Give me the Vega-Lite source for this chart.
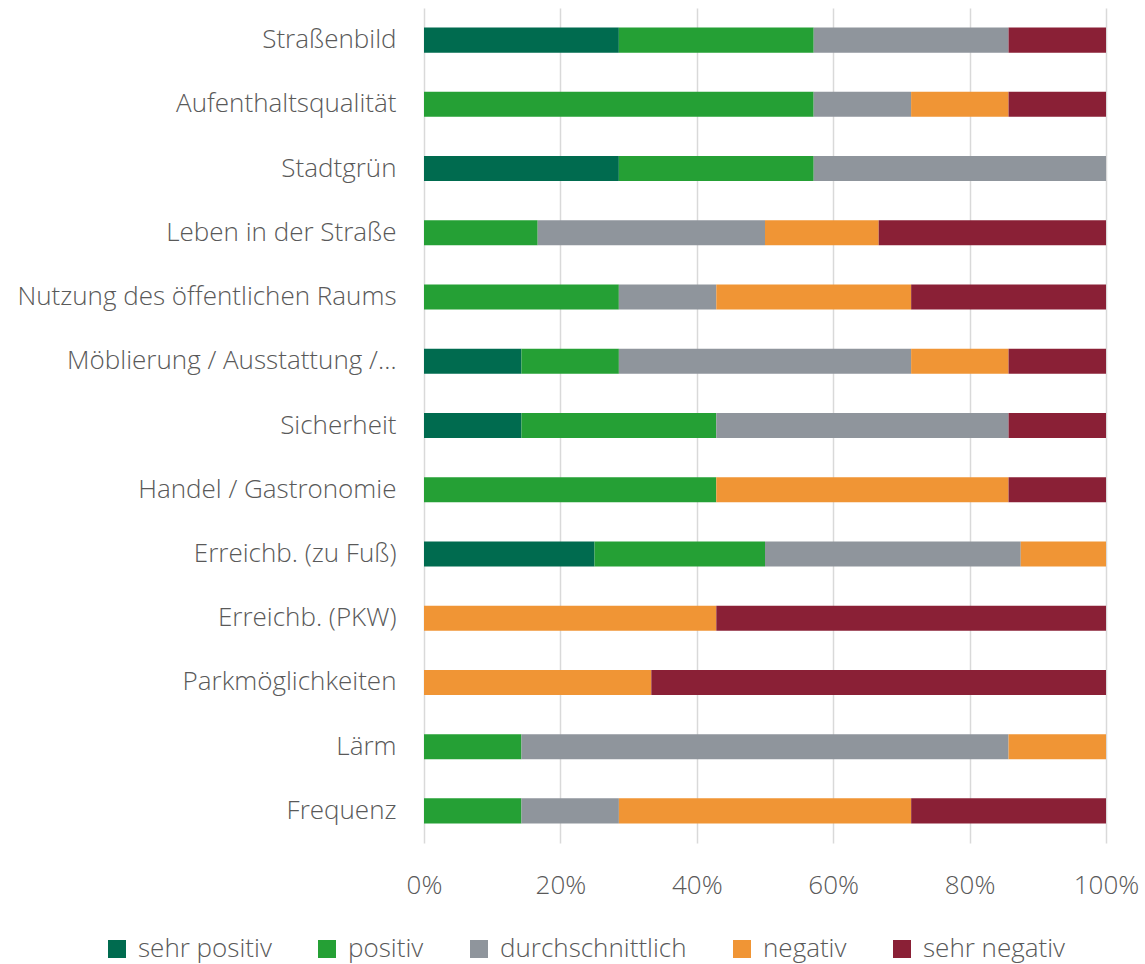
{
  "$schema": "https://vega.github.io/schema/vega-lite/v6.json",
  "width": 682,
  "height": 835,
  "autosize": {"type": "none"},
  "padding": {"left": 424, "top": 8, "right": 39, "bottom": 121},
  "background": "white",
  "config": {
    "font": "Open Sans",
    "view": {"stroke": null}
  },
  "data": {
    "values": [
      {"kat": "Straßenbild", "bew": "sehr positiv", "o": 1, "p": 28.57},
      {"kat": "Straßenbild", "bew": "positiv", "o": 2, "p": 28.57},
      {"kat": "Straßenbild", "bew": "durchschnittlich", "o": 3, "p": 28.57},
      {"kat": "Straßenbild", "bew": "negativ", "o": 4, "p": 0},
      {"kat": "Straßenbild", "bew": "sehr negativ", "o": 5, "p": 14.29},
      {"kat": "Aufenthaltsqualität", "bew": "sehr positiv", "o": 1, "p": 0},
      {"kat": "Aufenthaltsqualität", "bew": "positiv", "o": 2, "p": 57.14},
      {"kat": "Aufenthaltsqualität", "bew": "durchschnittlich", "o": 3, "p": 14.29},
      {"kat": "Aufenthaltsqualität", "bew": "negativ", "o": 4, "p": 14.29},
      {"kat": "Aufenthaltsqualität", "bew": "sehr negativ", "o": 5, "p": 14.29},
      {"kat": "Stadtgrün", "bew": "sehr positiv", "o": 1, "p": 28.57},
      {"kat": "Stadtgrün", "bew": "positiv", "o": 2, "p": 28.57},
      {"kat": "Stadtgrün", "bew": "durchschnittlich", "o": 3, "p": 42.86},
      {"kat": "Stadtgrün", "bew": "negativ", "o": 4, "p": 0},
      {"kat": "Stadtgrün", "bew": "sehr negativ", "o": 5, "p": 0},
      {"kat": "Leben in der Straße", "bew": "sehr positiv", "o": 1, "p": 0},
      {"kat": "Leben in der Straße", "bew": "positiv", "o": 2, "p": 16.67},
      {"kat": "Leben in der Straße", "bew": "durchschnittlich", "o": 3, "p": 33.33},
      {"kat": "Leben in der Straße", "bew": "negativ", "o": 4, "p": 16.67},
      {"kat": "Leben in der Straße", "bew": "sehr negativ", "o": 5, "p": 33.33},
      {"kat": "Nutzung des öffentlichen Raums", "bew": "sehr positiv", "o": 1, "p": 0},
      {"kat": "Nutzung des öffentlichen Raums", "bew": "positiv", "o": 2, "p": 28.57},
      {"kat": "Nutzung des öffentlichen Raums", "bew": "durchschnittlich", "o": 3, "p": 14.29},
      {"kat": "Nutzung des öffentlichen Raums", "bew": "negativ", "o": 4, "p": 28.57},
      {"kat": "Nutzung des öffentlichen Raums", "bew": "sehr negativ", "o": 5, "p": 28.57},
      {"kat": "Möblierung / Ausstattung /…", "bew": "sehr positiv", "o": 1, "p": 14.29},
      {"kat": "Möblierung / Ausstattung /…", "bew": "positiv", "o": 2, "p": 14.29},
      {"kat": "Möblierung / Ausstattung /…", "bew": "durchschnittlich", "o": 3, "p": 42.86},
      {"kat": "Möblierung / Ausstattung /…", "bew": "negativ", "o": 4, "p": 14.29},
      {"kat": "Möblierung / Ausstattung /…", "bew": "sehr negativ", "o": 5, "p": 14.29},
      {"kat": "Sicherheit", "bew": "sehr positiv", "o": 1, "p": 14.29},
      {"kat": "Sicherheit", "bew": "positiv", "o": 2, "p": 28.57},
      {"kat": "Sicherheit", "bew": "durchschnittlich", "o": 3, "p": 42.86},
      {"kat": "Sicherheit", "bew": "negativ", "o": 4, "p": 0},
      {"kat": "Sicherheit", "bew": "sehr negativ", "o": 5, "p": 14.29},
      {"kat": "Handel / Gastronomie", "bew": "sehr positiv", "o": 1, "p": 0},
      {"kat": "Handel / Gastronomie", "bew": "positiv", "o": 2, "p": 42.86},
      {"kat": "Handel / Gastronomie", "bew": "durchschnittlich", "o": 3, "p": 0},
      {"kat": "Handel / Gastronomie", "bew": "negativ", "o": 4, "p": 42.86},
      {"kat": "Handel / Gastronomie", "bew": "sehr negativ", "o": 5, "p": 14.29},
      {"kat": "Erreichb. (zu Fuß)", "bew": "sehr positiv", "o": 1, "p": 25},
      {"kat": "Erreichb. (zu Fuß)", "bew": "positiv", "o": 2, "p": 25},
      {"kat": "Erreichb. (zu Fuß)", "bew": "durchschnittlich", "o": 3, "p": 37.5},
      {"kat": "Erreichb. (zu Fuß)", "bew": "negativ", "o": 4, "p": 12.5},
      {"kat": "Erreichb. (zu Fuß)", "bew": "sehr negativ", "o": 5, "p": 0},
      {"kat": "Erreichb. (PKW)", "bew": "sehr positiv", "o": 1, "p": 0},
      {"kat": "Erreichb. (PKW)", "bew": "positiv", "o": 2, "p": 0},
      {"kat": "Erreichb. (PKW)", "bew": "durchschnittlich", "o": 3, "p": 0},
      {"kat": "Erreichb. (PKW)", "bew": "negativ", "o": 4, "p": 42.86},
      {"kat": "Erreichb. (PKW)", "bew": "sehr negativ", "o": 5, "p": 57.14},
      {"kat": "Parkmöglichkeiten", "bew": "sehr positiv", "o": 1, "p": 0},
      {"kat": "Parkmöglichkeiten", "bew": "positiv", "o": 2, "p": 0},
      {"kat": "Parkmöglichkeiten", "bew": "durchschnittlich", "o": 3, "p": 0},
      {"kat": "Parkmöglichkeiten", "bew": "negativ", "o": 4, "p": 33.33},
      {"kat": "Parkmöglichkeiten", "bew": "sehr negativ", "o": 5, "p": 66.67},
      {"kat": "Lärm", "bew": "sehr positiv", "o": 1, "p": 0},
      {"kat": "Lärm", "bew": "positiv", "o": 2, "p": 14.29},
      {"kat": "Lärm", "bew": "durchschnittlich", "o": 3, "p": 71.43},
      {"kat": "Lärm", "bew": "negativ", "o": 4, "p": 14.29},
      {"kat": "Lärm", "bew": "sehr negativ", "o": 5, "p": 0},
      {"kat": "Frequenz", "bew": "sehr positiv", "o": 1, "p": 0},
      {"kat": "Frequenz", "bew": "positiv", "o": 2, "p": 14.29},
      {"kat": "Frequenz", "bew": "durchschnittlich", "o": 3, "p": 14.29},
      {"kat": "Frequenz", "bew": "negativ", "o": 4, "p": 42.86},
      {"kat": "Frequenz", "bew": "sehr negativ", "o": 5, "p": 28.57}
    ]
  },
  "mark": {"type": "bar"},
  "encoding": {
    "y": {
      "field": "kat",
      "type": "nominal",
      "sort": null,
      "scale": {"paddingInner": 0.61, "paddingOuter": 0.305},
      "axis": {
        "title": null,
        "domain": false,
        "ticks": false,
        "labelFontSize": 26,
        "labelFontWeight": 300,
        "labelColor": "#595959",
        "labelPadding": 28,
        "labelLimit": 500
      }
    },
    "x": {
      "field": "p",
      "type": "quantitative",
      "stack": "normalize",
      "scale": {"domain": [0, 1], "nice": false},
      "axis": {
        "title": null,
        "format": ".0%",
        "values": [0, 0.2, 0.4, 0.6, 0.8, 1],
        "domain": false,
        "ticks": false,
        "grid": true,
        "gridColor": "#d9d9d9",
        "gridWidth": 1.5,
        "labelFontSize": 26,
        "labelFontWeight": 300,
        "labelColor": "#595959",
        "labelPadding": 29,
        "labelFlush": false
      }
    },
    "color": {
      "field": "bew",
      "type": "nominal",
      "sort": ["sehr positiv", "positiv", "durchschnittlich", "negativ", "sehr negativ"],
      "scale": {
        "domain": ["sehr positiv", "positiv", "durchschnittlich", "negativ", "sehr negativ"],
        "range": ["#006B4F", "#25A035", "#8F959C", "#F09535", "#8A2036"]
      },
      "legend": {
        "title": null,
        "orient": "none",
        "direction": "horizontal",
        "legendX": -320,
        "legendY": 928,
        "symbolType": "square",
        "symbolSize": 324,
        "symbolStrokeWidth": 0,
        "labelFontSize": 26,
        "labelFontWeight": 300,
        "labelColor": "#595959",
        "labelOffset": 8,
        "labelLimit": 400,
        "columnPadding": 42
      }
    },
    "order": {"field": "o", "type": "quantitative"}
  }
}
